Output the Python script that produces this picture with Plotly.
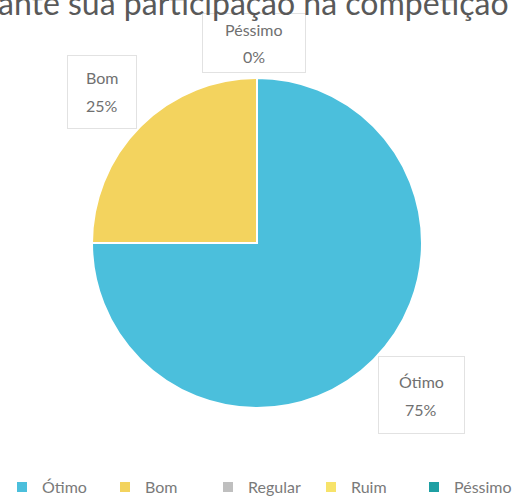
import plotly.graph_objects as go

categories = ["Ótimo", "Bom", "Regular", "Ruim", "Péssimo"]
values = [75, 25, 0, 0, 0]
colors = ["#4BBFDC", "#F3D35E", "#BFBFBF", "#F7E36A", "#1E9FA3"]
title_text = "ante sua participação na competição"

# labelled slices and their callout boxes (pixel layout)
label_items = [0, 1, 4]
box_center = {0: (421, 395), 1: (102, 92), 4: (254, 43)}
box_size = {0: (83, 74), 1: (66, 70), 4: (100, 56)}
line_gap = 28

W, H = 523, 498
FONT = "Lato"

total = sum(values)

fig = go.Figure(go.Pie(
    labels=categories,
    values=values,
    marker=dict(colors=colors, line=dict(color="white", width=2)),
    sort=False,
    direction="clockwise",
    rotation=0,
    textinfo="none",
    hoverinfo="label+percent",
    domain=dict(x=[92/W, 422/W], y=[1-408/H, 1-78/H]),
    showlegend=True,
))

def px(x):
    return x / W

def py(y):
    return 1 - y / H

annotations = []
for i in label_items:
    cx, cy = box_center[i]
    w, h = box_size[i]
    pct = round(values[i] / total * 100)
    annotations.append(dict(
        x=px(cx), y=py(cy), xref="paper", yref="paper",
        text=" ", showarrow=False,
        bordercolor="#e2e2e2", borderwidth=1, bgcolor="rgba(255,255,255,0)",
        width=w, height=h, xanchor="center", yanchor="middle",
    ))
    for txt, dy in ((categories[i], -line_gap / 2), (f"{pct}%", line_gap / 2)):
        annotations.append(dict(
            x=px(cx), y=py(cy + dy), xref="paper", yref="paper",
            text=txt, showarrow=False,
            font=dict(family=FONT, size=16, color="#707070"),
            xanchor="center", yanchor="middle",
        ))

annotations.append(dict(
    x=px(-4), y=py(3), xref="paper", yref="paper",
    text=title_text, showarrow=False,
    xanchor="left", yanchor="middle",
    font=dict(family=FONT, size=32, color="#595959"),
))

fig.update_layout(
    width=W, height=H,
    margin=dict(l=0, r=0, t=0, b=0, autoexpand=False),
    paper_bgcolor="white",
    plot_bgcolor="white",
    annotations=annotations,
    legend=dict(
        orientation="h",
        x=px(2), xanchor="left",
        y=py(487), yanchor="middle",
        font=dict(family=FONT, size=16, color="#7a7a7a"),
        itemwidth=30,
        entrywidth=58,
        tracegroupgap=0,
    ),
)

fig.write_html("out.html", config={"displayModeBar": False},
               post_script="document.body.style.margin='0';")
